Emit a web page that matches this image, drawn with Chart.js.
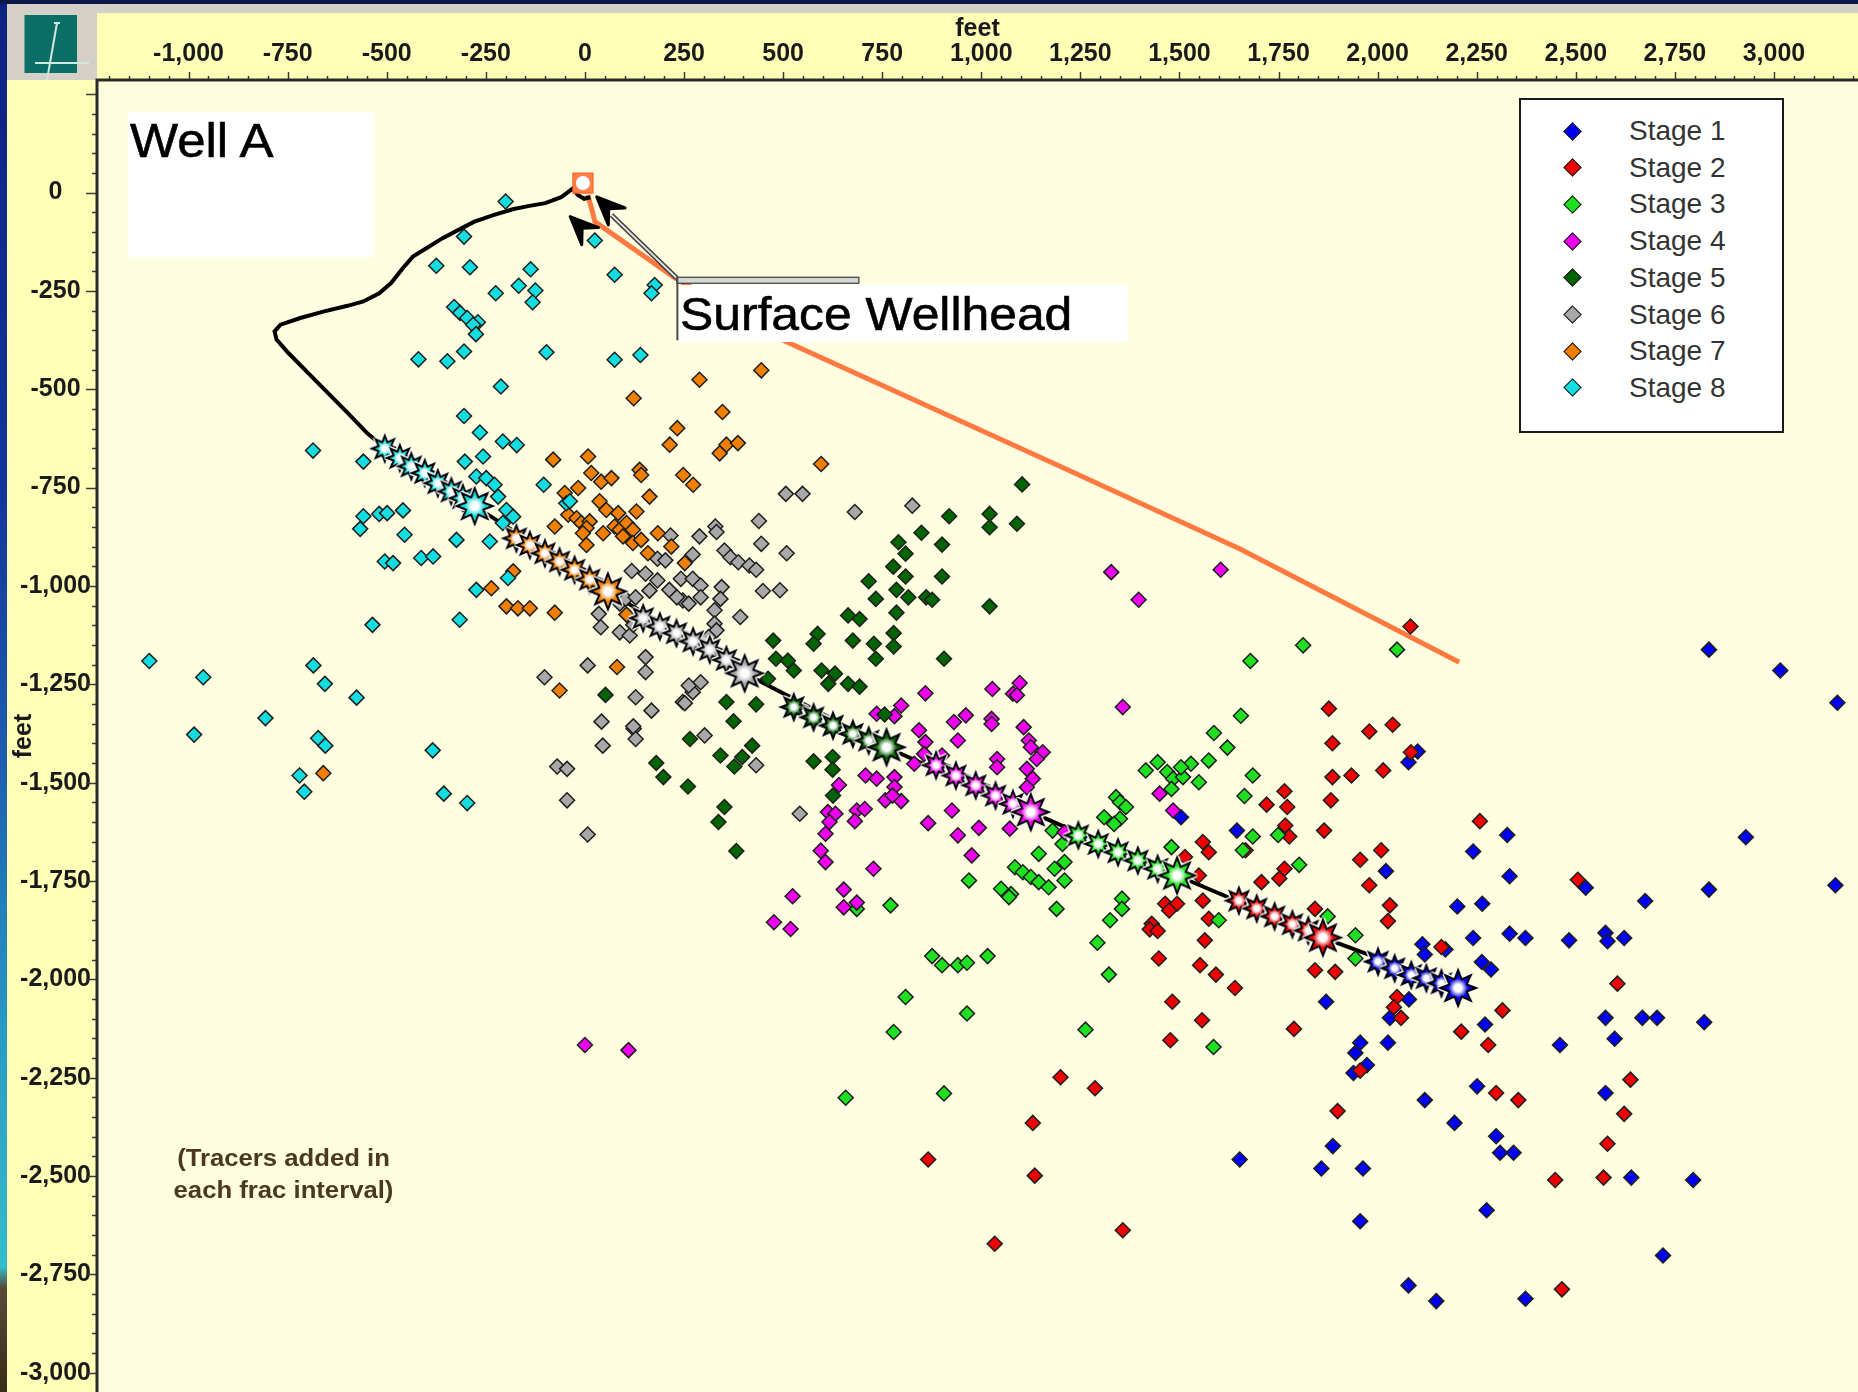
<!DOCTYPE html>
<html>
<head>
<meta charset="utf-8">
<script src="https://cdn.jsdelivr.net/npm/chart.js@4.4.1/dist/chart.umd.min.js"></script>
<style>
html,body{margin:0;padding:0;background:#0b1a4a;}
#wrap{position:relative;width:1858px;height:1392px;overflow:hidden;background:#FFFFB8;font-family:'Liberation Sans',Arial,sans-serif;}
#leftStrip{position:absolute;left:0;top:0;width:7px;height:1392px;
  background:linear-gradient(#0b2280 0%,#12359a 35%,#1d5fb0 55%,#2a9cc4 75%,#33bccc 91%,#5a4a38 92.5%,#3a2a1a 100%);}
#topNavy{position:absolute;left:0;top:0;width:1858px;height:4px;background:#0b1a4a;}
#topGray{position:absolute;left:7px;top:4px;width:1851px;height:9px;background:#d4d0c8;}
#logoBox{position:absolute;left:7px;top:13px;width:90px;height:67px;background:#d4d0c8;}
#chartCanvas{position:absolute;left:0;top:0;z-index:1;}
.ov{position:absolute;z-index:2;}
#wellA{left:128px;top:112px;width:246px;height:145px;background:#fff;}
#wellA span{position:absolute;left:2px;top:1px;font-size:49px;line-height:55px;color:#000;white-space:nowrap;
  transform:scaleX(1.04);transform-origin:left center;-webkit-text-stroke:0.6px #000;}
#surf{left:679px;top:285px;width:449px;height:57px;background:#fff;}
#surf span{position:absolute;left:1px;top:0;font-size:47px;line-height:57px;color:#000;white-space:nowrap;
  transform:scaleX(1.06);transform-origin:left center;-webkit-text-stroke:0.6px #000;}
#legendBox{left:1519px;top:98px;width:265px;height:335px;box-sizing:border-box;border:2px solid #1a1a1a;background:#fff;}
.lgRow{position:absolute;z-index:3;height:34px;line-height:34px;font-size:28px;color:#333;white-space:nowrap;}
.lgDia{position:absolute;z-index:3;width:13px;height:13px;box-sizing:border-box;border:1.6px solid #1a1a1a;transform:rotate(45deg);}
#note{left:133px;top:1142px;width:301px;text-align:center;font-size:24px;font-weight:bold;line-height:32px;color:#4a3820;
  transform:scaleX(1.07);transform-origin:center;}
</style>
</head>
<body>
<div id="wrap">
  <div id="leftStrip"></div>
  <div id="topNavy"></div>
  <div id="topGray"></div>
  <div id="logoBox">
    <svg width="90" height="67" style="position:absolute;left:0;top:0">
      <rect x="17.5" y="2" width="52.5" height="58" fill="#0b6e66"/>
      <line x1="50" y1="10" x2="40" y2="67" stroke="#cfe8e4" stroke-width="2"/>
      <line x1="28" y1="50" x2="82" y2="50" stroke="#cfe8e4" stroke-width="2"/>
      <line x1="47" y1="10" x2="53" y2="10" stroke="#cfe8e4" stroke-width="2"/>
    </svg>
  </div>
  <canvas id="chartCanvas" width="1858" height="1392"></canvas>
  <div class="ov" id="wellA"><span>Well A</span></div>
  <div class="ov" id="surf"><span>Surface Wellhead</span></div>
  <div class="ov" id="legendBox"></div>
  <div class="ov" id="note">(Tracers added in<br>each frac interval)</div>
</div>
<script>
// ---------------- DATA (feet) ----------------
const stageNames = ['Stage 1','Stage 2','Stage 3','Stage 4','Stage 5','Stage 6','Stage 7','Stage 8'];
const xTicks = [-1000,-750,-500,-250,0,250,500,750,1000,1250,1500,1750,2000,2250,2500,2750,3000];
const yTicks = [0,-250,-500,-750,-1000,-1250,-1500,-1750,-2000,-2250,-2500,-2750,-3000];

const stage1Pts = [[2836,-1162],[3016,-1215],[3160,-1297],[2101,-1421],[2078,-1448],[2327,-1633],[2241,-1675],[2929,-1639],[2333,-1738],[2021,-1725],[2525,-1767],[2836,-1772],[3155,-1761],[2201,-1815],[2264,-1808],[2675,-1801],[1645,-1622],[1504,-1588],[2241,-1895],[2333,-1884],[2373,-1895],[2483,-1901],[2575,-1882],[2580,-1903],[2622,-1895],[2113,-1911],[2119,-1937],[2171,-1924],[2263,-1956],[2286,-1975],[1870,-2057],[2079,-2051],[2031,-2098],[2271,-2115],[2575,-2098],[2668,-2098],[2705,-2098],[2824,-2109],[2598,-2151],[2460,-2167],[1956,-2161],[2026,-2161],[1944,-2187],[1973,-2218],[1939,-2238],[2251,-2272],[2575,-2289],[2119,-2307],[2194,-2365],[2299,-2399],[2309,-2441],[2343,-2441],[1887,-2424],[1652,-2458],[1858,-2481],[1963,-2481],[2640,-2504],[2796,-2510],[2275,-2587],[1956,-2615],[2720,-2702],[2078,-2778],[2148,-2818],[2373,-2812]];

const stage2Pts = [[2083,-1103],[1877,-1312],[1979,-1370],[2038,-1353],[1886,-1400],[2084,-1423],[2014,-1469],[1934,-1482],[1886,-1486],[1765,-1522],[1720,-1556],[1772,-1562],[1882,-1545],[1767,-1609],[1777,-1637],[1865,-1622],[2258,-1598],[2009,-1672],[1956,-1696],[1765,-1719],[1752,-1744],[1707,-1753],[1979,-1761],[2031,-1812],[2026,-1852],[1842,-1821],[1667,-1672],[2505,-1747],[1559,-1651],[1574,-1677],[1514,-1689],[1549,-1736],[1464,-1808],[1494,-1808],[1474,-1825],[1559,-1800],[1574,-1846],[1430,-1859],[1564,-1901],[1448,-1947],[1552,-1964],[1592,-1988],[1640,-2022],[1482,-2057],[1557,-2104],[1477,-2155],[1200,-2249],[1287,-2277],[1130,-2365],[866,-2458],[1135,-2499],[1357,-2638],[1034,-2672],[1425,-1873],[1445,-1877],[1842,-1977],[1893,-1981],[2049,-2045],[2041,-2071],[2059,-2098],[2161,-1918],[1789,-2126],[1956,-2232],[2315,-2079],[2211,-2133],[2279,-2167],[2605,-2011],[2638,-2255],[2299,-2289],[2355,-2307],[2622,-2342],[1899,-2335],[2580,-2418],[2448,-2510],[2570,-2504],[2465,-2788]];

const stage3Pts = [[1655,-1330],[1587,-1374],[1621,-1411],[1574,-1444],[1445,-1448],[1415,-1469],[1469,-1473],[1484,-1490],[1509,-1486],[1529,-1452],[1504,-1461],[1549,-1499],[1480,-1516],[1340,-1537],[1350,-1550],[1365,-1562],[1350,-1592],[1335,-1605],[1310,-1588],[1180,-1622],[1205,-1656],[1210,-1702],[1185,-1719],[1145,-1681],[1085,-1715],[1105,-1728],[1125,-1740],[1145,-1753],[1170,-1766],[1210,-1749],[1050,-1770],[1075,-1783],[1070,-1791],[969,-1749],[1190,-1821],[1325,-1850],[1355,-1795],[1355,-1821],[1480,-1664],[686,-1821],[771,-1812],[1599,-1850],[1293,-1907],[876,-1941],[901,-1964],[941,-1964],[964,-1958],[1016,-1941],[809,-2045],[964,-2087],[779,-2134],[1263,-2128],[1322,-1988],[1586,-2172],[658,-2301],[906,-2290],[1812,-1151],[1679,-1191],[2049,-1162],[1685,-1482],[1664,-1534],[1685,-1637],[1749,-1633],[1660,-1672],[1802,-1709],[1874,-1840],[1944,-1888],[1944,-1947]];

const stage4Pts = [[1328,-965],[1604,-959],[1397,-1035],[859,-1273],[1028,-1262],[1097,-1247],[1080,-1274],[1090,-1278],[1357,-1308],[798,-1304],[781,-1331],[736,-1325],[931,-1346],[961,-1329],[1026,-1338],[1026,-1351],[1107,-1359],[843,-1367],[941,-1393],[1120,-1393],[1125,-1410],[1155,-1423],[1140,-1440],[859,-1397],[856,-1427],[901,-1431],[1040,-1440],[1040,-1461],[831,-1452],[1115,-1465],[1130,-1490],[708,-1482],[736,-1490],[781,-1486],[781,-1511],[1115,-1512],[641,-1506],[758,-1545],[798,-1547],[776,-1533],[926,-1571],[613,-1575],[632,-1579],[617,-1600],[607,-1630],[686,-1571],[706,-1567],[681,-1598],[866,-1603],[994,-1615],[1072,-1617],[941,-1634],[976,-1685],[595,-1673],[607,-1702],[728,-1719],[524,-1789],[653,-1772],[653,-1817],[686,-1805],[477,-1855],[519,-1872],[1450,-1528],[1484,-1571],[1210,-1626],[0,-2167],[110,-2180]];

const stage5Pts = [[1103,-742],[919,-823],[1021,-817],[1021,-851],[1090,-842],[849,-865],[791,-889],[901,-895],[809,-918],[778,-951],[809,-976],[901,-976],[716,-988],[786,-1010],[816,-1029],[861,-1029],[876,-1035],[734,-1033],[1021,-1052],[786,-1068],[664,-1075],[693,-1084],[779,-1120],[779,-1154],[587,-1122],[577,-1147],[676,-1139],[729,-1147],[734,-1185],[906,-1185],[475,-1139],[482,-1185],[512,-1190],[527,-1215],[597,-1215],[631,-1223],[614,-1249],[664,-1249],[693,-1256],[462,-1236],[357,-1295],[432,-1301],[375,-1344],[756,-1327],[265,-1389],[422,-1406],[397,-1435],[377,-1459],[342,-1431],[180,-1450],[198,-1486],[260,-1510],[577,-1446],[625,-1435],[625,-1467],[352,-1562],[337,-1600],[626,-1533],[382,-1674],[52,-1277]];

const stage6Pts = [[507,-766],[549,-766],[826,-796],[681,-812],[439,-835],[329,-849],[332,-863],[289,-874],[216,-872],[445,-893],[509,-917],[272,-920],[352,-910],[367,-927],[387,-940],[415,-948],[432,-959],[183,-931],[203,-935],[118,-962],[153,-969],[183,-986],[163,-1012],[213,-1010],[242,-982],[272,-982],[292,-999],[292,-1029],[345,-1003],[342,-1033],[449,-1013],[492,-1011],[392,-1079],[88,-1045],[103,-1033],[128,-1029],[247,-1037],[262,-1045],[232,-1029],[88,-1118],[113,-1126],[122,-1099],[327,-1062],[327,-1096],[332,-1113],[312,-1130],[153,-1181],[153,-1219],[128,-1283],[247,-1295],[272,-1270],[262,-1253],[292,-1245],[168,-1317],[123,-1363],[128,-1389],[302,-1380],[432,-1456],[542,-1579],[35,-1071],[40,-1105],[7,-1202],[-102,-1232],[42,-1345],[45,-1406],[-70,-1459],[-45,-1465],[-45,-1545],[7,-1632],[252,-1298],[122,-1357]];

const stage7Pts = [[445,-452],[289,-476],[123,-523],[347,-558],[233,-599],[214,-641],[357,-641],[386,-637],[340,-663],[596,-690],[-80,-679],[8,-671],[16,-713],[41,-735],[67,-726],[138,-705],[142,-718],[248,-718],[273,-743],[-17,-751],[-51,-764],[163,-773],[37,-785],[54,-807],[84,-815],[130,-811],[-42,-819],[-21,-828],[-9,-840],[12,-836],[4,-853],[-76,-849],[-5,-866],[46,-866],[75,-849],[88,-857],[105,-840],[121,-857],[96,-874],[121,-891],[142,-883],[184,-866],[218,-900],[159,-917],[252,-942],[4,-896],[-181,-963],[-236,-1006],[-198,-1052],[-169,-1057],[-139,-1057],[-76,-1068],[105,-1073],[81,-1206],[-64,-1266],[-660,-1476]];

const stage8Pts = [[-200,-23],[-305,-112],[-375,-186],[-290,-190],[-137,-195],[-225,-256],[-167,-237],[-125,-249],[-132,-279],[-330,-291],[-315,-306],[-297,-319],[-270,-330],[-282,-336],[-275,-360],[-420,-424],[-347,-429],[-305,-404],[-97,-406],[-212,-493],[-305,-568],[-265,-610],[-207,-633],[-172,-642],[-686,-656],[-559,-684],[-303,-684],[-257,-671],[25,-122],[75,-209],[75,-425],[176,-235],[168,-256],[140,-413],[-104,-743],[-47,-790],[-38,-785],[-274,-722],[-249,-726],[-228,-743],[-219,-773],[-198,-807],[-181,-824],[-207,-840],[-559,-823],[-519,-817],[-499,-815],[-459,-808],[-567,-855],[-455,-870],[-324,-883],[-240,-887],[-505,-938],[-484,-942],[-413,-929],[-383,-925],[-194,-980],[-274,-1010],[-536,-1099],[-316,-1086],[-1099,-1191],[-963,-1232],[-685,-1202],[-656,-1249],[-576,-1284],[-806,-1336],[-986,-1378],[-673,-1387],[-655,-1406],[-720,-1482],[-708,-1523],[-384,-1418],[-356,-1528],[-297,-1552]];

// perforation (frac interval) positions along the lateral, last = main cluster
const perf1 = [[2001,-1955],[2043,-1972],[2085,-1989],[2123,-1997],[2161,-2010],[2203,-2022]];
const perf2 = [[1650,-1800],[1695,-1820],[1740,-1840],[1785,-1860],[1825,-1876],[1862,-1894]];
const perf3 = [[1245,-1634],[1295,-1656],[1345,-1677],[1395,-1698],[1445,-1719],[1494,-1736]];
const perf4 = [[886,-1456],[936,-1482],[986,-1507],[1036,-1533],[1080,-1554],[1125,-1575]];
const perf5 = [[527,-1308],[577,-1334],[626,-1355],[676,-1376],[716,-1393],[761,-1410]];
const perf6 = [[147,-1082],[189,-1103],[231,-1120],[273,-1141],[315,-1162],[357,-1188],[403,-1222]];
const perf7 = [[-173,-879],[-139,-896],[-101,-917],[-64,-938],[-26,-959],[12,-984],[58,-1014]];
const perf8 = [[-505,-651],[-467,-675],[-438,-696],[-404,-713],[-371,-739],[-337,-760],[-308,-777],[-278,-797]];

// well trajectory (black) and offset track (orange)
const wellPath = [[14,-12],[-2,-16],[-18,-6],[-31,10],[-60,-12],[-100,-27],[-140,-34],[-180,-42],[-229,-57],[-279,-74],[-319,-95],[-359,-116],[-399,-141],[-434,-163],[-459,-192],[-489,-230],[-519,-256],[-559,-277],[-599,-288],[-658,-302],[-718,-319],[-768,-336],[-783,-353],[-778,-374],[-748,-408],[-698,-459],[-648,-510],[-598,-561],[-549,-612],[-504,-650],[-278,-797],[58,-1014],[403,-1222],[761,-1410],[1125,-1575],[1494,-1736],[1862,-1894],[2203,-2022],[2215,-2028]];
const orangePath = [[7,-6],[18,-45],[25,-74],[227,-217],[507,-379],[1186,-690],[1653,-906],[2206,-1194]];
const wellhead = [[-5,24]];

// ---------------- STYLES ----------------
const stageColors = ['#0000F0','#EE0000','#1EE01E','#EE00EE','#006400','#A8A8A8','#F07F00','#12DDE0'];
const FONT = "'Liberation Sans', Arial, sans-serif";

const toXY = arr => arr.map(p => ({x: p[0], y: p[1]}));
const fmt = v => Number(v).toLocaleString('en-US');

function makeStar(color, R) {
  const pad = 4, s = Math.ceil(2 * R + 2 * pad);
  const c = document.createElement('canvas'); c.width = s; c.height = s;
  const g = c.getContext('2d'); const m = s / 2;
  g.beginPath();
  for (let i = 0; i < 16; i++) {
    const a = -Math.PI / 2 + i * Math.PI / 8;
    const r = i % 2 ? R * 0.52 : R;
    const px = m + r * Math.cos(a), py = m + r * Math.sin(a);
    if (i) g.lineTo(px, py); else g.moveTo(px, py);
  }
  g.closePath();
  g.lineJoin = 'round'; g.strokeStyle = 'rgba(255,255,255,0.95)'; g.lineWidth = 5; g.stroke();
  const grd = g.createRadialGradient(m, m, 0, m, m, R);
  grd.addColorStop(0, '#ffffff'); grd.addColorStop(0.2, '#ffffff');
  grd.addColorStop(0.55, color); grd.addColorStop(1, color);
  g.fillStyle = grd; g.fill();
  g.lineJoin = 'miter'; g.strokeStyle = '#000'; g.lineWidth = 2; g.stroke();
  return c;
}

const stagePts = [stage1Pts, stage2Pts, stage3Pts, stage4Pts, stage5Pts, stage6Pts, stage7Pts, stage8Pts];
const perfPts = [perf1, perf2, perf3, perf4, perf5, perf6, perf7, perf8];

const datasets = [];
datasets.push({ label: 'Offset track', data: toXY(orangePath), showLine: true, borderColor: '#FF7A40',
  borderWidth: 5, pointRadius: 0, tension: 0, order: 30 });
datasets.push({ label: 'Well A path', data: toXY(wellPath), showLine: true, borderColor: '#000000',
  borderWidth: 4, pointRadius: 0, tension: 0, order: 29 });
stagePts.forEach((pts, i) => {
  datasets.push({ label: stageNames[i], data: toXY(pts), pointStyle: 'rectRot', pointRadius: 7.5,
    backgroundColor: stageColors[i], borderColor: '#1e1e1e', borderWidth: 1.5, showLine: false, order: 20 - i });
});
perfPts.forEach((pts, i) => {
  const small = makeStar(stageColors[i], 13), big = makeStar(stageColors[i], 18);
  datasets.push({ label: stageNames[i] + ' perfs', data: toXY(pts), showLine: false, pointRadius: 12,
    pointStyle: c => (c.dataIndex === c.dataset.data.length - 1 ? big : small), order: 5 });
});
datasets.push({ label: 'Wellhead', data: toXY(wellhead), pointStyle: 'rect', pointRadius: 14,
  backgroundColor: '#FF7F4A', borderColor: '#FF6A30', borderWidth: 1.5, order: 2 });
datasets.push({ label: 'Wellhead center', data: toXY(wellhead), pointStyle: 'circle', pointRadius: 7,
  backgroundColor: '#ffffff', borderColor: '#ffffff', borderWidth: 0, order: 1 });

const deco = {
  id: 'deco',
  beforeDraw(chart) {
    const {ctx, chartArea: a} = chart;
    ctx.save(); ctx.fillStyle = '#FFFEE0';
    ctx.fillRect(a.left, a.top, a.right - a.left, a.bottom - a.top); ctx.restore();
  },
  afterDatasetsDraw(chart) {
    const {ctx} = chart; const xs = chart.scales.x, ys = chart.scales.y;
    const P = (x, y) => [xs.getPixelForValue(x), ys.getPixelForValue(y)];
    const [ex, ey] = P(227, -218);     // callout elbow
    const [tx, ty] = P(67, -57);       // callout tip near wellhead
    ctx.save();
    ctx.lineCap = 'butt';
    ctx.beginPath(); ctx.moveTo(ex + 2, ey); ctx.lineTo(tx, ty);
    ctx.strokeStyle = '#3c3c3c'; ctx.lineWidth = 5; ctx.stroke();
    ctx.strokeStyle = '#dcdcdc'; ctx.lineWidth = 2; ctx.stroke();
    ctx.fillStyle = '#d6d6d6'; ctx.fillRect(ex + 2, ey - 1, 182, 6);
    ctx.strokeStyle = '#3c3c3c'; ctx.lineWidth = 1.2; ctx.strokeRect(ex + 2, ey - 1, 182, 6);
    ctx.beginPath(); ctx.moveTo(ex + 2.5, ey - 1); ctx.lineTo(ex + 2.5, ey + 62);
    ctx.strokeStyle = '#4a4a4a'; ctx.lineWidth = 2; ctx.stroke();
    const arrow = (cx, cy) => {
      const ang = Math.atan2(-1, -1.02), L = 14, W = 12;
      const ux = Math.cos(ang), uy = Math.sin(ang), nx = -uy, ny = ux;
      ctx.beginPath();
      ctx.moveTo(cx + ux * L, cy + uy * L);
      ctx.lineTo(cx - ux * L + nx * W, cy - uy * L + ny * W);
      ctx.lineTo(cx - ux * L * 0.2, cy - uy * L * 0.2);
      ctx.lineTo(cx - ux * L - nx * W, cy - uy * L - ny * W);
      ctx.closePath(); ctx.fillStyle = '#000'; ctx.fill();
      ctx.lineWidth = 3; ctx.strokeStyle = '#000'; ctx.lineJoin = 'round'; ctx.stroke();
    };
    const a1 = P(55, -36), a2 = P(-12, -86);
    arrow(a1[0], a1[1]); arrow(a2[0], a2[1]);
    ctx.restore();
  },
  afterDraw(chart) {
    const {ctx, chartArea: a} = chart; const xs = chart.scales.x, ys = chart.scales.y;
    ctx.save();
    ctx.strokeStyle = '#3a3a3a'; ctx.lineWidth = 1.5;
    for (let v = Math.ceil(xs.min / 50) * 50; v <= xs.max; v += 50) {
      const px = Math.round(xs.getPixelForValue(v)) + 0.5;
      const len = (v % 250 === 0) ? 8 : 4;
      ctx.beginPath(); ctx.moveTo(px, a.top); ctx.lineTo(px, a.top - len); ctx.stroke();
    }
    for (let v = Math.ceil(ys.min / 50) * 50; v <= ys.max; v += 50) {
      const py = Math.round(ys.getPixelForValue(v)) + 0.5;
      const len = (v % 250 === 0) ? 11 : 5;
      ctx.beginPath(); ctx.moveTo(a.left, py); ctx.lineTo(a.left - len, py); ctx.stroke();
    }
    ctx.strokeStyle = '#2a2a2a'; ctx.lineWidth = 3;
    ctx.beginPath(); ctx.moveTo(a.left, a.bottom); ctx.lineTo(a.left, a.top); ctx.lineTo(a.right, a.top); ctx.stroke();
    ctx.restore();
  }
};

const tickFont = { family: FONT, size: 25, weight: 'bold' };
new Chart(document.getElementById('chartCanvas'), {
  type: 'scatter',
  data: { datasets },
  options: {
    responsive: false, animation: false, devicePixelRatio: 1,
    layout: { padding: 0, autoPadding: false },
    events: [],
    plugins: { legend: { display: false }, tooltip: { enabled: false } },
    scales: {
      x: {
        type: 'linear', position: 'top', min: -1231, max: 3212,
        grid: { display: false, drawTicks: false }, border: { display: false },
        ticks: { padding: 11, color: '#1a1a1a', font: tickFont, maxRotation: 0, minRotation: 0, autoSkip: false,
          callback: v => fmt(v) },
        afterBuildTicks: s => { s.ticks = xTicks.map(v => ({ value: v })); },
        title: { display: true, text: 'feet', color: '#1a1a1a', font: tickFont, padding: { top: 14, bottom: 0 } },
        afterFit: s => { s.height = 80; s.paddingLeft = 0; s.paddingRight = 0; }
      },
      y: {
        type: 'linear', position: 'left', min: -3049, max: 286,
        grid: { display: false, drawTicks: false }, border: { display: false },
        ticks: { padding: 6, crossAlign: 'center', color: '#1a1a1a', font: tickFont, autoSkip: false,
          callback: v => fmt(v) },
        afterBuildTicks: s => { s.ticks = yTicks.slice().reverse().map(v => ({ value: v })); },
        title: { display: true, text: 'feet', color: '#1a1a1a', font: tickFont, padding: { top: 9, bottom: 0 } },
        afterFit: s => { s.width = 97; s.paddingTop = 0; s.paddingBottom = 0; }
      }
    }
  },
  plugins: [deco]
});

// legend (HTML)
const wrap = document.getElementById('wrap');
stageNames.forEach((name, i) => {
  const cy = 131 + i * 36.7;
  const d = document.createElement('div'); d.className = 'lgDia';
  d.style.left = (1572 - 6.5) + 'px'; d.style.top = (cy - 6.5) + 'px'; d.style.background = stageColors[i];
  wrap.appendChild(d);
  const t = document.createElement('div'); t.className = 'lgRow';
  t.style.left = '1629px'; t.style.top = (cy - 17) + 'px'; t.textContent = name;
  wrap.appendChild(t);
});
</script>
</body>
</html>
